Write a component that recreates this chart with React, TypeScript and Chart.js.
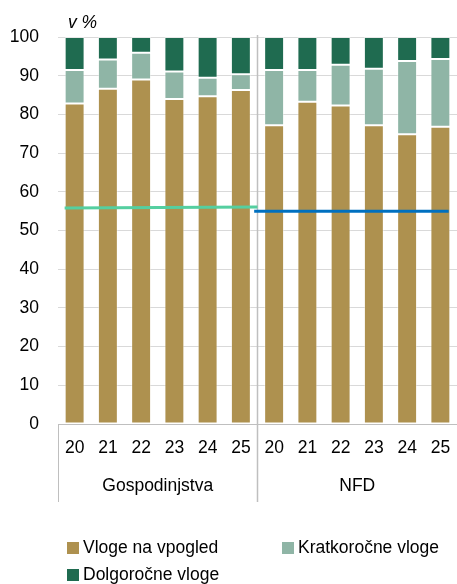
import React, { useEffect, useRef } from 'react';
import { Chart, registerables } from 'chart.js';

Chart.register(...registerables);

// ---- data ----
const years = ['20', '21', '22', '23', '24', '25', '20', '21', '22', '23', '24', '25'];
const groups = ['Gospodinjstva', 'NFD'];
const vlogeNaVpogled = [82.8, 86.6, 89.0, 84.0, 84.7, 86.3, 77.2, 83.3, 82.3, 77.2, 74.9, 76.8];
const kratkorocneVloge = [8.7, 7.6, 6.9, 7.1, 4.8, 4.1, 14.3, 8.2, 10.5, 14.6, 18.9, 17.5];
const dolgorocneVloge = [8.5, 5.8, 4.1, 8.9, 10.5, 9.6, 8.5, 8.5, 7.2, 8.2, 6.2, 5.7];
const gospodinjstvaLine = [
  { x: 0.2, y: 55.8 },
  { x: 6.0, y: 56.1 },
];
const nfdLine = [
  { x: 5.9, y: 55.0 },
  { x: 11.75, y: 55.0 },
];
const seriesLabels = ['Vloge na vpogled', 'Kratkoročne vloge', 'Dolgoročne vloge'];
const unitLabel = 'v %';

// ---- styles ----
const FONT_FAMILY = "'Liberation Sans', Arial, sans-serif";
const FONT_SIZE = 17.5;
const COLORS = ['#AE914F', '#8FB5A6', '#1F6B50'];
const GREEN_LINE = '#55CFA0';
const BLUE_LINE = '#0070C0';
const AXIS_GREY = '#BFBFBF';

const decorPlugin = {
  id: 'decor',
  beforeDatasetsDraw(chart: any) {
    const { ctx, chartArea, scales } = chart;
    const x = scales.x;
    const g = scales.xg;
    const mid = (x.getPixelForValue(5) + x.getPixelForValue(6)) / 2;
    ctx.save();
    ctx.strokeStyle = AXIS_GREY;
    ctx.lineWidth = 1.5;
    ctx.beginPath();
    ctx.moveTo(mid, chartArea.top - 2);
    ctx.lineTo(mid, g.bottom);
    ctx.stroke();
    ctx.lineWidth = 1;
    ctx.beginPath();
    ctx.moveTo(chartArea.left + 0.5, chartArea.bottom);
    ctx.lineTo(chartArea.left + 0.5, g.bottom);
    ctx.stroke();
    ctx.restore();
  },
  afterDraw(chart: any) {
    const { ctx, chartArea } = chart;
    ctx.save();
    ctx.fillStyle = '#000';
    ctx.textBaseline = 'middle';
    ctx.textAlign = 'left';
    ctx.font = `italic ${FONT_SIZE}px ${FONT_FAMILY}`;
    ctx.fillText(unitLabel, chartArea.left + 10, chartArea.top - 14);

    // legend
    const pos = [
      { x: 67, y: 548 },
      { x: 282, y: 548 },
      { x: 67, y: 575 },
    ];
    ctx.font = `${FONT_SIZE}px ${FONT_FAMILY}`;
    chart.data.datasets.slice(0, 3).forEach((ds: any, i: number) => {
      const p = pos[i];
      ctx.fillStyle = ds.backgroundColor;
      ctx.fillRect(p.x, p.y - 6, 12, 12);
      ctx.fillStyle = '#000';
      ctx.fillText(ds.label, p.x + 16, p.y);
    });
    ctx.restore();
  },
};

const noPad = (s: any) => {
  s.paddingLeft = 0;
  s.paddingRight = 0;
};

export default function App() {
  const ref = useRef<HTMLCanvasElement>(null);

  useEffect(() => {
    if (!ref.current) return;
    const font = { family: FONT_FAMILY, size: FONT_SIZE };
    const barCommon = {
      type: 'bar' as const,
      xAxisID: 'x',
      yAxisID: 'y',
      grouped: false,
      barPercentage: 0.6,
      categoryPercentage: 1,
      borderWidth: 1,
      borderColor: 'rgba(255,255,255,0.4)',
      borderSkipped: false,
      order: 1,
    };
    const lineCommon = {
      type: 'line' as const,
      xAxisID: 'xl',
      yAxisID: 'yl',
      borderWidth: 3,
      pointRadius: 0,
      fill: false,
      order: 0,
    };
    const invisibleAxis = {
      display: true,
      offset: false,
      ticks: { display: false },
      grid: { display: false, drawTicks: false, offset: false },
      border: { display: false },
    };
    const chart = new Chart(ref.current, {
      type: 'bar',
      data: {
        labels: years,
        datasets: [
          { ...barCommon, label: seriesLabels[0], data: vlogeNaVpogled, backgroundColor: COLORS[0] },
          { ...barCommon, label: seriesLabels[1], data: kratkorocneVloge, backgroundColor: COLORS[1] },
          { ...barCommon, label: seriesLabels[2], data: dolgorocneVloge, backgroundColor: COLORS[2] },
          { ...lineCommon, label: 'Gospodinjstva', data: gospodinjstvaLine as any, borderColor: GREEN_LINE } as any,
          { ...lineCommon, label: 'NFD', data: nfdLine as any, borderColor: BLUE_LINE } as any,
        ],
      },
      options: {
        responsive: false,
        animation: false,
        layout: { padding: { top: 37, left: 10, right: 0, bottom: 82 } },
        plugins: {
          legend: { display: false },
          tooltip: { enabled: false },
        },
        scales: {
          x: {
            type: 'category',
            position: 'bottom',
            stacked: true,
            offset: true,
            weight: 0,
            grid: { display: false, drawTicks: false },
            border: { display: true, color: AXIS_GREY, width: 1 },
            ticks: { font, color: '#000', padding: 14, maxRotation: 0, autoSkip: false },
            afterFit: (s: any) => { s.height = 34; noPad(s); },
          },
          xg: {
            type: 'category',
            position: 'bottom',
            labels: groups,
            offset: true,
            weight: 1,
            grid: { display: false, drawTicks: false },
            border: { display: false },
            ticks: { font, color: '#000', padding: 18, maxRotation: 0, autoSkip: false },
            afterFit: (s: any) => { s.height = 44; noPad(s); },
          },
          xl: {
            ...invisibleAxis,
            type: 'linear',
            position: 'bottom',
            weight: -1,
            min: 0,
            max: 12,
            afterFit: (s: any) => { s.height = 0; noPad(s); },
          },
          y: {
            stacked: true,
            min: 0,
            max: 100,
            ticks: { stepSize: 10, font, color: '#000', padding: 19 },
            grid: { color: '#D9D9D9', drawTicks: false },
            border: { display: false },
            afterFit: (s: any) => { s.width = 48; s.paddingTop = 0; s.paddingBottom = 0; },
          },
          yl: {
            ...invisibleAxis,
            type: 'linear',
            position: 'left',
            weight: -1,
            min: 0,
            max: 100,
            afterFit: (s: any) => { s.width = 0; s.paddingTop = 0; s.paddingBottom = 0; },
          },
        } as any,
      },
      plugins: [decorPlugin],
    } as any);
    return () => chart.destroy();
  }, []);

  return (
    <div style={{ position: 'fixed', left: 0, top: 0, width: 457, height: 584, background: '#fff' }}>
      <canvas ref={ref} width={457} height={584} style={{ display: 'block' }} />
    </div>
  );
}
